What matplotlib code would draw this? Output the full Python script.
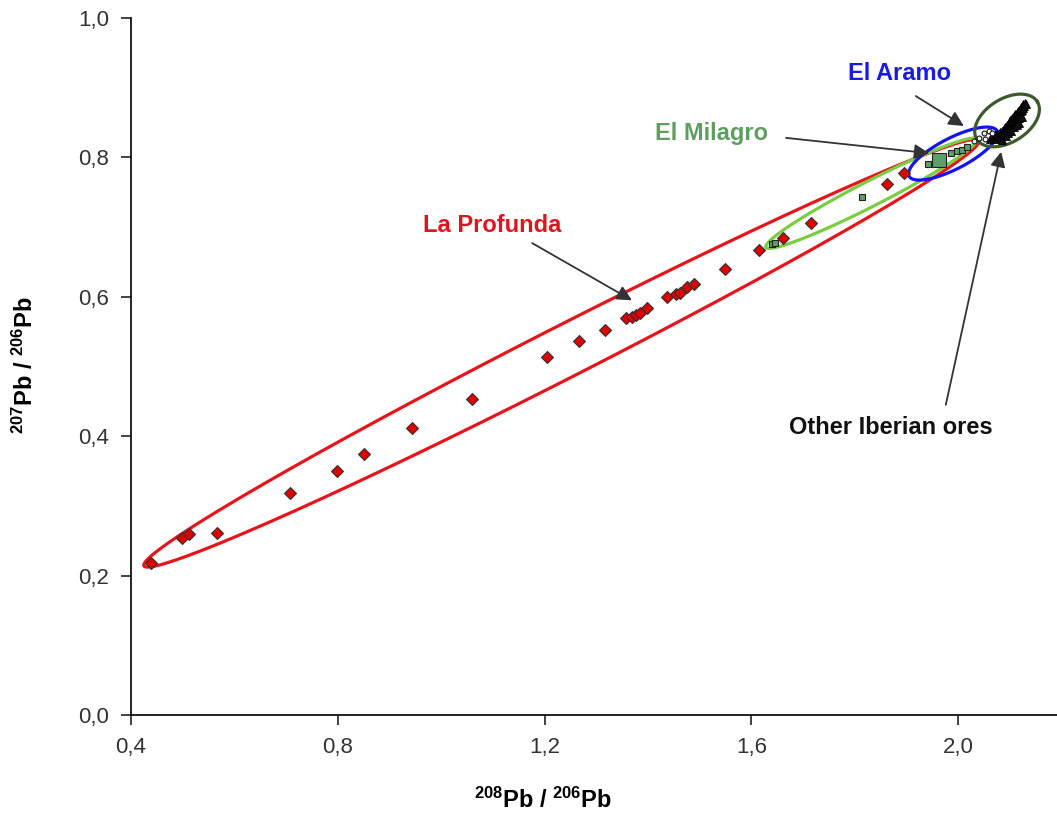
import numpy as np
import matplotlib
matplotlib.use("Agg")
import matplotlib.pyplot as plt
from matplotlib.ticker import FuncFormatter, MultipleLocator

plt.rcParams['font.family'] = ['Liberation Sans', 'DejaVu Sans']
plt.rcParams['mathtext.fontset'] = 'custom'
plt.rcParams['mathtext.rm'] = 'Liberation Sans:bold'
plt.rcParams['mathtext.it'] = 'Liberation Sans:bold'
plt.rcParams['mathtext.bf'] = 'Liberation Sans:bold'

# --- La Profunda (красные ромбы) ---
prof_x = [0.439, 0.499, 0.512, 0.566, 0.708, 0.798, 0.851, 0.944, 1.060, 1.205,
          1.267, 1.317, 1.357, 1.369, 1.377, 1.385, 1.398, 1.437, 1.454, 1.462,
          1.475, 1.489, 1.549, 1.615, 1.661, 1.715, 1.862, 1.895]
prof_y = [0.218, 0.254, 0.260, 0.261, 0.319, 0.350, 0.374, 0.412, 0.453, 0.514,
          0.537, 0.552, 0.570, 0.571, 0.574, 0.577, 0.584, 0.600, 0.604, 0.605,
          0.614, 0.618, 0.640, 0.667, 0.684, 0.706, 0.762, 0.778]

# --- El Milagro (зелёные квадраты) ---
mil_x = [1.640, 1.646, 1.814, 1.942, 1.986, 1.998, 2.007, 2.017]
mil_y = [0.676, 0.677, 0.743, 0.790, 0.806, 0.809, 0.811, 0.815]
mil_big_x = [1.963]
mil_big_y = [0.796]

# --- El Aramo ---
ara_x = [2.031, 2.040, 2.050, 2.052, 2.060, 2.065]
ara_y = [0.824, 0.828, 0.835, 0.826, 0.838, 0.835]

# --- Other Iberian ores ---
ib_x = [2.062, 2.068, 2.071, 2.074, 2.076, 2.079, 2.081, 2.083, 2.085, 2.087,
        2.088, 2.090, 2.091, 2.093, 2.094, 2.095, 2.097, 2.098, 2.099, 2.100,
        2.101, 2.102, 2.104, 2.105, 2.106, 2.107, 2.108, 2.109, 2.110, 2.111,
        2.112, 2.113, 2.114, 2.115, 2.116, 2.117, 2.118, 2.119, 2.120, 2.121,
        2.122, 2.124, 2.125, 2.126, 2.128, 2.130, 2.132, 2.118, 2.108, 2.096,
        2.123, 2.113, 2.103, 2.092, 2.084]
ib_y = [0.826, 0.829, 0.832, 0.827, 0.834, 0.831, 0.836, 0.829, 0.838, 0.833,
        0.841, 0.836, 0.844, 0.839, 0.847, 0.842, 0.845, 0.850, 0.840, 0.848,
        0.853, 0.844, 0.851, 0.856, 0.847, 0.859, 0.852, 0.855, 0.862, 0.849,
        0.858, 0.864, 0.854, 0.861, 0.867, 0.857, 0.863, 0.870, 0.860, 0.866,
        0.873, 0.868, 0.876, 0.871, 0.874, 0.878, 0.876, 0.850, 0.843, 0.835,
        0.858, 0.846, 0.838, 0.830, 0.825]

# эллипсы: (конец 1, конец 2, полуширина в единицах x, цвет)
ell_ends_1 = [(0.425, 0.214), (1.628, 0.671), (1.905, 0.773), (2.036, 0.826)]
ell_ends_2 = [(2.040, 0.824), (2.036, 0.826), (2.075, 0.838), (2.153, 0.880)]
ell_half_w = [0.050, 0.024, 0.030, 0.042]
ell_colors = ['#e8141c', '#7acc42', '#1414ee', '#3c5a2c']

# подписи и стрелки
labels = ['La Profunda', 'El Milagro', 'El Aramo', 'Other Iberian ores']
label_xy = [(1.098, 0.703), (1.522, 0.835), (1.887, 0.921), (1.870, 0.412)]
label_colors = ['#e0141c', '#5e9e60', '#1a1ae6', '#111111']
arrow_from = [(1.176, 0.677), (1.667, 0.828), (1.918, 0.888), (1.976, 0.445)]
arrow_to = [(1.369, 0.595), (1.944, 0.806), (2.011, 0.845), (2.083, 0.808)]

RY = 697.0 / 517.0  # отношение масштабов осей (пиксели на единицу y / x)


def ellipse_xy(p1, p2, hw, n=300):
    p1 = np.array([p1[0], p1[1] * RY])
    p2 = np.array([p2[0], p2[1] * RY])
    c = (p1 + p2) / 2
    u = (p2 - p1) / 2
    v = np.array([-u[1], u[0]]) / np.linalg.norm(u) * hw
    t = np.linspace(0, 2 * np.pi, n)
    pts = c[:, None] + u[:, None] * np.cos(t) + v[:, None] * np.sin(t)
    return pts[0], pts[1] / RY


fig = plt.figure(figsize=(10.57, 8.31), dpi=100)
ax = fig.add_axes([131 / 1057, 116 / 831, 926 / 1057, 697 / 831])

for p1, p2, hw, col in zip(ell_ends_1, ell_ends_2, ell_half_w, ell_colors):
    ex, ey = ellipse_xy(p1, p2, hw)
    ax.plot(ex, ey, color=col, lw=2.3, zorder=3)

ax.plot(prof_x, prof_y, 'D', ms=6.5, mfc='#dd0000', mec='#333333', mew=0.8, zorder=4)
ax.plot(mil_x, mil_y, 's', ms=4.5, mfc='#5e9e6a', mec='#222222', mew=0.8, zorder=5)
ax.plot(mil_big_x, mil_big_y, 's', ms=10, mfc='#5e9e6a', mec='#222222', mew=0.8, zorder=5)
ax.plot(ib_x, ib_y, '^', ms=6, mfc='#111111', mec='#000000', mew=0.6, zorder=5)
ax.plot(ara_x, ara_y, 'o', ms=3.5, mfc='white', mec='#111111', mew=0.8, zorder=6)

for txt, xy, col in zip(labels, label_xy, label_colors):
    ax.text(xy[0], xy[1], txt, color=col, fontsize=17, fontweight='bold',
            ha='center', va='center', zorder=7)

for a, b in zip(arrow_from, arrow_to):
    ax.annotate('', xy=b, xytext=a,
                arrowprops=dict(arrowstyle='-|>,head_length=0.6,head_width=0.3',
                                color='#333333', lw=1.3, mutation_scale=15,
                                shrinkA=0, shrinkB=0), zorder=7)

ax.set_xlim(0.4, 0.4 + 926 / 517)
ax.set_ylim(0, 1.0)
ax.xaxis.set_major_locator(MultipleLocator(0.4))
ax.yaxis.set_major_locator(MultipleLocator(0.2))
fmt = FuncFormatter(lambda v, pos: f'{v:.1f}'.replace('.', ','))
ax.xaxis.set_major_formatter(fmt)
ax.yaxis.set_major_formatter(fmt)
ax.set_xticks([0.4, 0.8, 1.2, 1.6, 2.0])

for s in ['top', 'right']:
    ax.spines[s].set_visible(False)
for s in ['left', 'bottom']:
    ax.spines[s].set_linewidth(1.3)
    ax.spines[s].set_color('#111111')
ax.tick_params(direction='out', length=7, width=1.1, colors='#111111',
               labelsize=16, labelcolor='#333333', pad=9)

fig.text(543 / 1057, 1 - 800 / 831, r'$^{208}$Pb / $^{206}$Pb', fontsize=17,
         fontweight='bold', ha='center', va='center')
fig.text(25 / 1057, 1 - 365 / 831, r'$^{207}$Pb / $^{206}$Pb', fontsize=17,
         fontweight='bold', ha='center', va='center', rotation=90)

fig.savefig('out.png', dpi=100)
